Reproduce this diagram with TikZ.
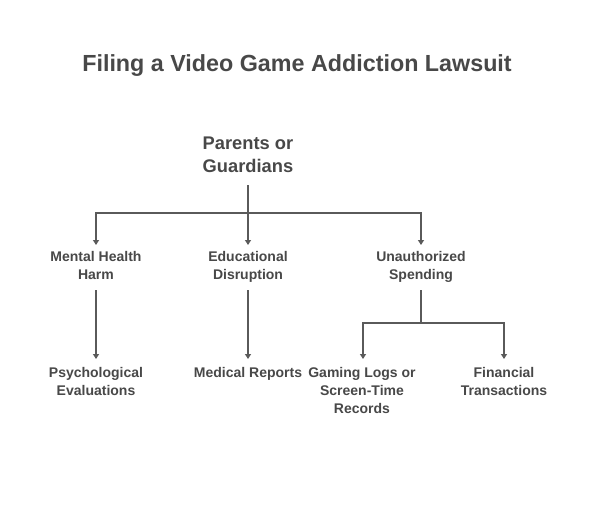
\documentclass[tikz,border=0pt]{standalone}
\usepackage{fontspec}
\setmainfont{Liberation Sans}
\usetikzlibrary{arrows.meta}
\definecolor{txt}{HTML}{484848}
\definecolor{ln}{HTML}{5A5A5A}
\tikzset{
  lbl/.style={font=\bfseries\fontsize{14}{18}\selectfont, text=txt, align=center, inner sep=0pt, anchor=north},
  top/.style={font=\bfseries\fontsize{18.3}{23}\selectfont, text=txt, align=center, inner sep=0pt, anchor=north},
  conn/.style={draw=ln, line width=1.2pt},
  arr/.style={conn, -{Triangle[width=6pt,length=5pt]}}
}
\begin{document}
\begin{tikzpicture}[x=1pt,y=-1pt]
\useasboundingbox[fill=white] (0,0) rectangle (594,532);
\node[font=\bfseries\fontsize{23.3}{28}\selectfont, text=txt, inner sep=0pt] (title) at (297,66) {Filing a Video Game Addiction Lawsuit};
\node[top] (p) at (248,137) {Parents or\\Guardians};
\node[lbl] (mh) at (96,251) {Mental Health\\Harm};
\node[lbl] (ed) at (248,251) {Educational\\Disruption};
\node[lbl] (us) at (421,251) {Unauthorized\\Spending};
\node[lbl] (pe) at (96,367) {Psychological\\Evaluations};
\node[lbl] (mr) at (248,367) {Medical Reports};
\node[lbl] (gl) at (362,367) {Gaming Logs or\\Screen-Time\\Records};
\node[lbl] (ft) at (504,367) {Financial\\Transactions};
% connector end points
\coordinate (ps) at (248,185);
\coordinate (j1) at (248,213);
\coordinate (mhn) at (96,245);
\coordinate (edn) at (248,245);
\coordinate (usn) at (421,245);
\coordinate (mhs) at (96,290);
\coordinate (eds) at (248,290);
\coordinate (uss) at (421,290);
\coordinate (j2) at (421,323);
\coordinate (pen) at (96,359);
\coordinate (mrn) at (248,359);
\coordinate (gln) at (363,359);
\coordinate (ftn) at (504,359);
\draw[conn] (ps) -- (j1);
\draw[arr] (j1) -| (mhn);
\draw[arr] (j1) -- (edn);
\draw[arr] (j1) -| (usn);
\draw[arr] (mhs) -- (pen);
\draw[arr] (eds) -- (mrn);
\draw[conn] (uss) -- (j2);
\draw[arr] (j2) -| (gln);
\draw[arr] (j2) -| (ftn);
\end{tikzpicture}
\end{document}
